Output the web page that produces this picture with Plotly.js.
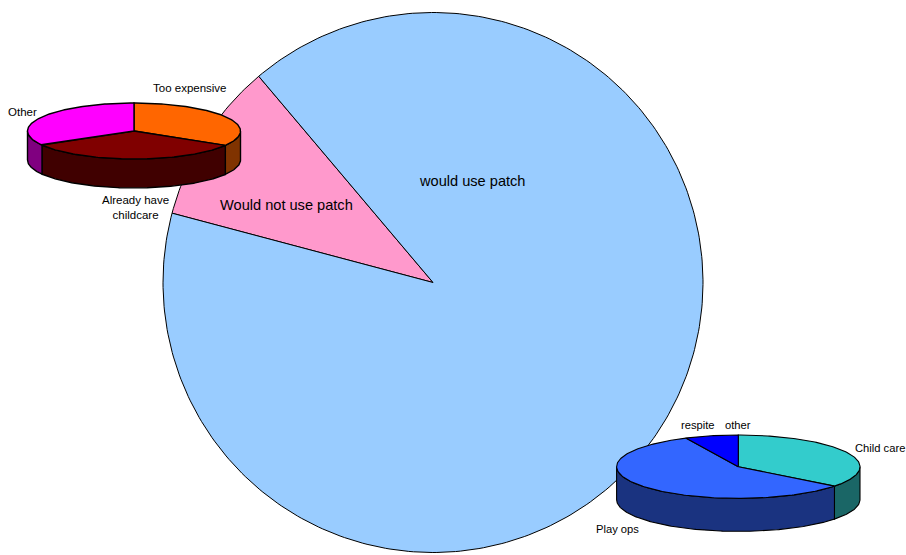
<!DOCTYPE html>
<html><head><meta charset="utf-8">
<script src="https://cdn.plot.ly/plotly-3.0.1.min.js"></script>
<style>html,body{margin:0;padding:0;background:#fff}</style>
</head><body><div id="chart" style="width:906px;height:555px"></div>
<script>
// ---- data ----
const mainLabels = ['Would not use patch', 'would use patch'];
const mainValues = [9.7, 90.3];
const mainColors = ['#FF99CC', '#99CCFF'];

const reasonLabels = ['Too expensive', 'Already have<br>childcare', 'Other'];
const reasonValues = [33.6, 33.0, 33.4];
const reasonColors = ['#FF6600', '#800000', '#FF00FF'];
const reasonSideColors = ['#803300', '#400000', '#800080'];

const useLabels = ['Child care', 'Play ops', 'respite', 'other'];
const useValues = [35.5, 57.4, 7.1, 0];
const useColors = ['#33CCCC', '#3366FF', '#0000FF', '#9999FF'];
const useSideColors = ['#1A6666', '#1A3380', '#000080', '#4D4D80'];

// ---- geometry (pixel-unit axes) ----
const mainGeo = {cx: 433, cy: 282.5, rx: 270, ry: 270, depth: 0, start: -40.2, dir: -1, lw: 1};
const reasonGeo = {cx: 134, cy: 131, rx: 106.5, ry: 28, depth: 29, start: 0, dir: 1, lw: 1.4};
const useGeo = {cx: 738.3, cy: 466.7, rx: 121.7, ry: 31.7, depth: 33, start: 0, dir: 1, lw: 1.1};

const labelPos = {
  main: [[286, 205], [472, 181]],
  reason: [[190, 88], [135, 207.5], [22, 112]],
  use: [[879.5, 448], [617, 529], [698.3, 425], [738.3, 425]]
};

function arc(g, a0, a1, dy) {
  const n = Math.max(2, Math.ceil(Math.abs(a1 - a0)) + 1);
  const xs = [], ys = [];
  for (let i = 0; i < n; i++) {
    const a = (a0 + (a1 - a0) * i / (n - 1)) * Math.PI / 180;
    xs.push(g.cx + g.rx * Math.sin(a));
    ys.push(g.cy - g.ry * Math.cos(a) + (dy || 0));
  }
  return [xs, ys];
}

function sliceAngles(values, g) {
  const tot = values.reduce((s, v) => s + v, 0);
  let a = g.start;
  return values.map(v => {
    const a0 = a; a += g.dir * v / tot * 360;
    return [Math.min(a0, a), Math.max(a0, a)];
  });
}

function pieTraces(values, colors, sideColors, g) {
  const angs = sliceAngles(values, g);
  const sides = [], tops = [];
  angs.forEach(([a0, a1], i) => {
    if (values[i] <= 0) return;
    if (g.depth > 0) {
      const s = Math.max(a0, 90), e = Math.min(a1, 270);
      if (s < e) {
        const [tx, ty] = arc(g, s, e, 0);
        const [bx, by] = arc(g, e, s, g.depth);
        sides.push({
          type: 'scatter', mode: 'lines', fill: 'toself', hoverinfo: 'skip',
          x: tx.concat(bx, [tx[0]]), y: ty.concat(by, [ty[0]]),
          fillcolor: sideColors[i], line: {color: '#000', width: g.lw}
        });
      }
    }
    const [ax, ay] = arc(g, a0, a1, 0);
    tops.push({
      type: 'scatter', mode: 'lines', fill: 'toself', hoverinfo: 'skip',
      x: [g.cx].concat(ax, [g.cx]), y: [g.cy].concat(ay, [g.cy]),
      fillcolor: colors[i], line: {color: '#000', width: g.lw}
    });
  });
  return sides.concat(tops);
}

const traces = []
  .concat(pieTraces(mainValues, mainColors, mainColors, mainGeo))
  .concat(pieTraces(reasonValues, reasonColors, reasonSideColors, reasonGeo))
  .concat(pieTraces(useValues, useColors, useSideColors, useGeo));

const font = 'Liberation Sans, Arial, sans-serif';
function ann(labels, pos, size) {
  return labels.map((t, i) => ({
    text: t, x: pos[i][0], y: pos[i][1], xref: 'x', yref: 'y',
    xanchor: 'center', yanchor: 'middle', showarrow: false,
    font: {family: font, size: size, color: '#000'}
  }));
}

const layout = {
  width: 906, height: 555,
  margin: {l: 0, r: 0, t: 0, b: 0},
  paper_bgcolor: '#fff', plot_bgcolor: '#fff',
  showlegend: false,
  xaxis: {range: [0, 906], visible: false, fixedrange: true},
  yaxis: {range: [555, 0], visible: false, fixedrange: true},
  annotations: []
    .concat(ann(mainLabels, labelPos.main, 14.6))
    .concat(ann(reasonLabels, labelPos.reason, 11.5))
    .concat(ann(useLabels, labelPos.use, 11.2))
};

Plotly.newPlot('chart', traces, layout, {staticPlot: true, displayModeBar: false});
</script>
</body></html>
